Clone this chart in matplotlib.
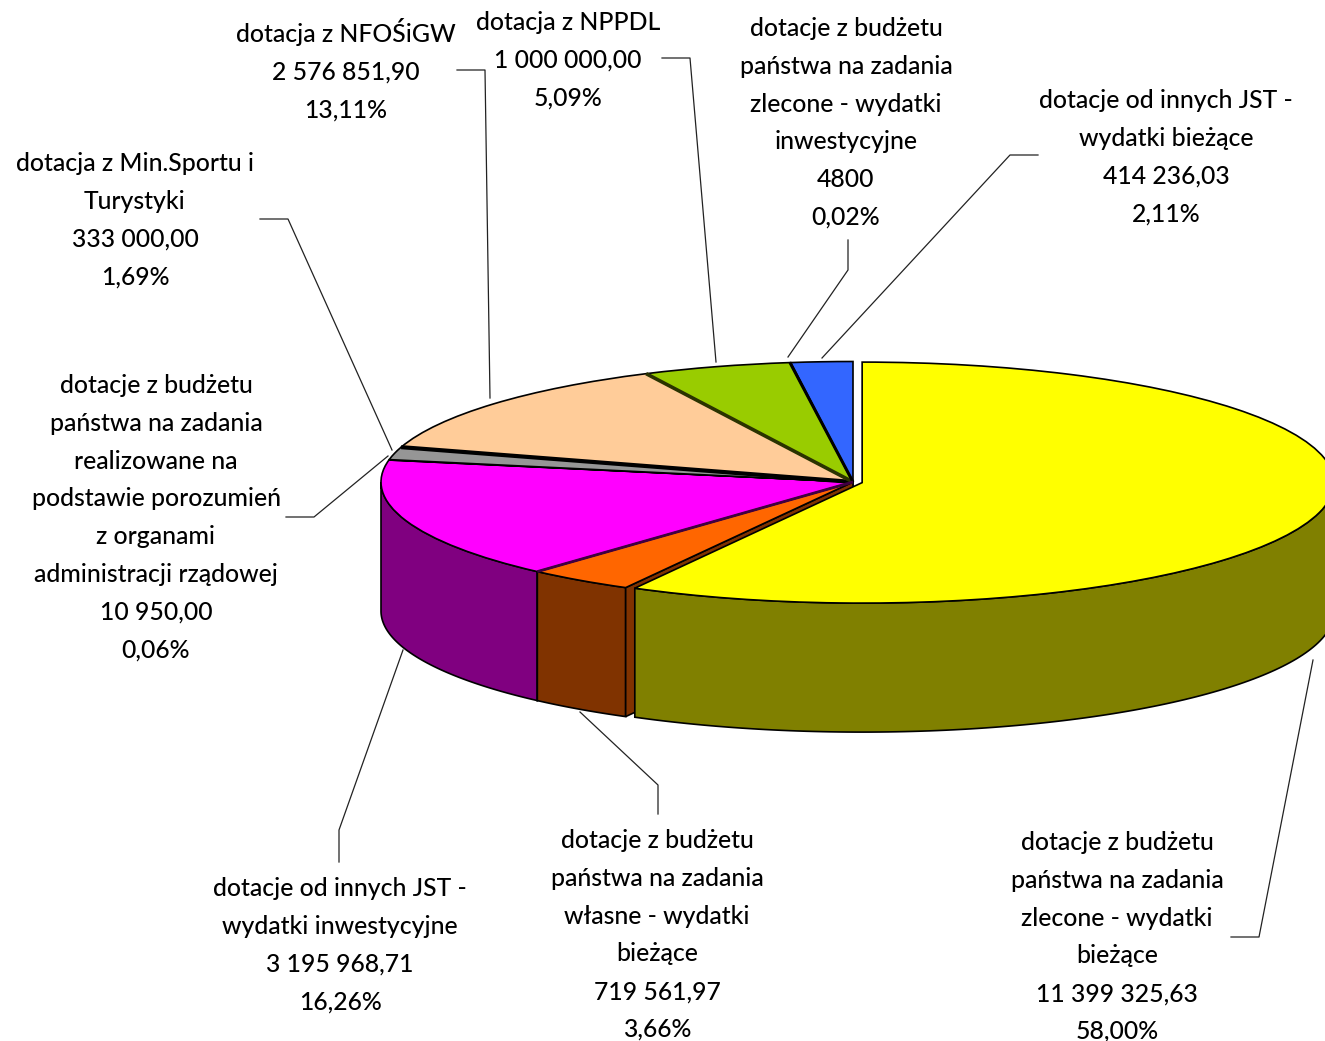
#Wykres kołowy 3D - struktura dotacji
import numpy as np
import matplotlib.pyplot as plt

plt.rcParams['font.family'] = ['Lato', 'DejaVu Sans']

# dane z wykresu
names = ['dotacje z budżetu\npaństwa na zadania\nzlecone - wydatki\nbieżące',
         'dotacje z budżetu\npaństwa na zadania\nwłasne - wydatki\nbieżące',
         'dotacje od innych JST -\nwydatki inwestycyjne',
         'dotacje z budżetu\npaństwa na zadania\nrealizowane na\npodstawie porozumień\nz organami\nadministracji rządowej',
         'dotacja z Min.Sportu i\nTurystyki',
         'dotacja z NFOŚiGW',
         'dotacja z NPPDL',
         'dotacje z budżetu\npaństwa na zadania\nzlecone - wydatki\ninwestycyjne',
         'dotacje od innych JST -\nwydatki bieżące']
values = [11399325.63, 719561.97, 3195968.71, 10950.00, 333000.00,
          2576851.90, 1000000.00, 4800, 414236.03]
value_labels = ['11 399 325,63', '719 561,97', '3 195 968,71', '10 950,00', '333 000,00',
                '2 576 851,90', '1 000 000,00', '4800', '414 236,03']
percents = ['58,00%', '3,66%', '16,26%', '0,06%', '1,69%', '13,11%', '5,09%', '0,02%', '2,11%']

top_colors = ['#FFFF00', '#FF6600', '#FF00FF', '#C0C0C0', '#969696', '#FFCC99', '#99CC00', '#99CC00', '#3366FF']
side_colors = ['#808000', '#803300', '#800080', '#606060', '#4B4B4B', '#806650', '#4D6600', '#4D6600', '#1A3380']
explode = [0.02, 0, 0, 0, 0, 0, 0, 0, 0]

# srodek kolejnych etykiet (x) i linia bazowa pierwszego wiersza (y)
label_x = [1117, 657, 340, 156, 135, 346, 568, 846, 1166]
label_y = [850, 848, 896, 393, 171, 42, 30, 36, 108]
line_h = 37.8

leaders = [[(1231, 937), (1259, 937), (1313, 660)],
           [(658, 814), (658, 785), (580, 712)],
           [(339, 862), (339, 830), (403, 650)],
           [(286, 517), (314, 517), (388, 456)],
           [(260, 219), (288, 219), (392, 450)],
           [(457, 70), (485, 70), (490, 398)],
           [(662, 58), (690, 58), (716, 362)],
           [(848, 240), (848, 270), (788, 357)],
           [(1038, 155), (1010, 155), (822, 358)]]

W, H = 1325, 1041
cx, cy = 853, 482      # srodek kola w pikselach
rx, ry = 472, 120.5    # promienie elipsy
depth = 129 / ry

fig = plt.figure(figsize=(W / 100, H / 100), dpi=100)

# osie kola: 1 jednostka = promien elipsy
ax = fig.add_axes([0, 0, 1, 1])
wedges, _ = ax.pie(values, startangle=90, counterclock=False, explode=explode, colors=top_colors,
                   wedgeprops={'edgecolor': 'black', 'linewidth': 1.2, 'zorder': 5})
ax.set_aspect('auto')
ax.set_xlim(-cx / rx, (W - cx) / rx)
ax.set_ylim((cy - H) / ry, cy / ry)
ax.axis('off')


def arc(w, a, b):
    t = np.radians(np.linspace(a, b, 120))
    return w.center[0] + w.r * np.cos(t), w.center[1] + w.r * np.sin(t)


# boczne sciany, od tylu do przodu: fiolet, braz, oliwka
for i, z in [(2, 1), (1, 2), (0, 3)]:
    w = wedges[i]
    # katy ujemne, widoczna jest tylko dolna polowa elipsy
    x, y = arc(w, max(w.theta1, -180), min(w.theta2, 0))
    ax.fill(np.r_[x, x[::-1]], np.r_[y, y[::-1] - depth], fc=side_colors[i],
            ec='black', lw=1.2, zorder=z)
    # przekroj od strony sasiedniego wycinka
    if i > 0:
        t = np.radians(w.theta2)
        xe = w.center[0] + w.r * np.cos(t)
        ye = w.center[1] + w.r * np.sin(t)
        ax.fill([xe, w.center[0], w.center[0], xe], [ye, w.center[1], w.center[1] - depth, ye - depth],
                fc=side_colors[i], ec='black', lw=1.2, zorder=z)

# grubsze szwy miedzy wycinkami (theta1 = krawedz z nastepnym wycinkiem)
for i, lw, col in [(4, 3.0, 'black'), (5, 2.6, '#2A3300'), (6, 2.2, 'black'), (1, 2.0, '#400040')]:
    w = wedges[i]
    t = np.radians(w.theta1) if i != 4 else np.radians(w.theta1)
    ax.plot([w.center[0], w.center[0] + np.cos(t)], [w.center[1], w.center[1] + np.sin(t)],
            color=col, lw=lw, zorder=6, solid_capstyle='butt')

# warstwa w pikselach na etykiety i linie odniesienia
over = fig.add_axes([0, 0, 1, 1])
over.set_xlim(0, W)
over.set_ylim(H, 0)
over.axis('off')
over.patch.set_alpha(0)

for line in leaders:
    over.plot([p[0] for p in line], [p[1] for p in line], color='#222222', lw=0.9, zorder=2)

for i in range(len(names)):
    lines = names[i].split('\n') + [value_labels[i], percents[i]]
    for j, s in enumerate(lines):
        over.text(label_x[i], label_y[i] + j * line_h, s, ha='center', va='baseline',
                  fontsize=17.8, fontweight='medium', color='black')

fig.savefig('out.png', dpi=100)
